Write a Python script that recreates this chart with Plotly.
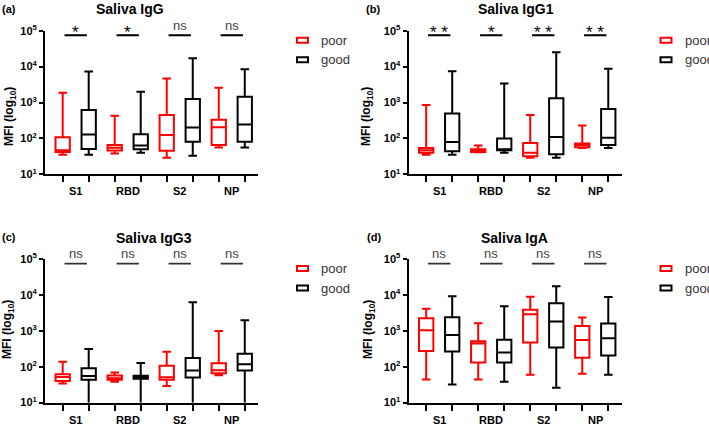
import plotly.graph_objects as go

W, H = 709, 425
FONT = "Liberation Sans, Arial, sans-serif"

categories = ["S1", "RBD", "S2", "NP"]
group_names = ["poor", "good"]
group_colors = ["#ff0000", "#000000"]

panel_tags = ["(a)", "(b)", "(c)", "(d)"]
panel_titles = ["Saliva IgG", "Saliva IgG1", "Saliva IgG3", "Saliva IgA"]

# significance label per category (S1, RBD, S2, NP)
sig_igg = ["*", "*", "ns", "ns"]
sig_igg1 = ["**", "*", "**", "**"]
sig_igg3 = ["ns", "ns", "ns", "ns"]
sig_iga = ["ns", "ns", "ns", "ns"]

# box stats per category: (min, q1, median, q3, max), MFI
igg_poor = [(35, 42, 47, 107, 1870), (38, 46, 55, 66, 430), (29, 45, 125, 450, 4650), (56, 66, 204, 330, 2570)]
igg_good = [(35, 51, 128, 620, 7300), (40, 50, 63, 131, 1990), (33, 81, 200, 1260, 17000), (56, 81, 245, 1450, 8500)]

igg1_poor = [(35, 40, 47, 54, 850), (41, 42, 47, 50, 63), (29, 32, 40, 74, 450), (54, 57, 65, 72, 230)]
igg1_good = [(35, 44, 80, 490, 7400), (40, 47, 49, 99, 3400), (29, 36, 110, 1320, 25000), (54, 66, 105, 660, 8700)]

igg3_poor = [(34, 40, 52, 62, 138), (38, 43, 48, 57, 69), (29, 43, 51, 107, 260), (58, 66, 80, 124, 980)]
igg3_good = [(9, 43, 55, 91, 310), (9, 46, 51, 56, 126), (9, 50, 78, 175, 6200), (9, 79, 117, 228, 1960)]

iga_poor = [(44, 275, 1030, 2230, 4140), (44, 130, 440, 510, 1620), (60, 470, 2870, 3870, 8900), (64, 178, 550, 1360, 2330)]
iga_good = [(32, 263, 760, 2400, 9100), (38, 130, 250, 560, 4800), (26, 340, 1820, 5900, 17400), (60, 204, 620, 1590, 8700)]

panel_data = [(igg_poor, igg_good), (igg1_poor, igg1_good), (igg3_poor, igg3_good), (iga_poor, iga_good)]
panel_sigs = [sig_igg, sig_igg1, sig_igg3, sig_iga]

# pixel layout of each panel: plot-area left/top, title x, tag x, y-title x
panel_left = [45, 408.5, 45, 408.5]
panel_top = [30.7, 30.7, 259, 259]
title_x = [130, 516, 154, 514]
tag_x = [8.5, 372.5, 9, 374]
ytitle_x = [10, 367, 8, 369]
ytitle_y = [117, 117, 330, 330]
PW, PH = 213.3, 143.6


def px(x):
    return x / W


def py(y):
    return 1 - y / H


def label(x, y, text, size, color="#000000", xref="paper", yref="paper", **kw):
    d = dict(x=x, y=y, xref=xref, yref=yref, text=text, showarrow=False,
             xanchor="center", yanchor="middle",
             font=dict(family=FONT, size=size, color=color))
    d.update(kw)
    return d


fig = go.Figure()
annotations = []
shapes = []

for p in range(4):
    n = "" if p == 0 else str(p + 1)
    xa, ya = "x" + n, "y" + n
    left, top = panel_left[p], panel_top[p]

    # boxes: poor at even positions, good at odd
    for g, stats in enumerate(panel_data[p]):
        fig.add_trace(go.Box(
            x=[2 * i + g for i in range(len(categories))],
            lowerfence=[s[0] for s in stats],
            q1=[s[1] for s in stats],
            median=[s[2] for s in stats],
            q3=[s[3] for s in stats],
            upperfence=[s[4] for s in stats],
            width=0.55,
            whiskerwidth=0.6,
            fillcolor="rgba(255,255,255,0)",
            line=dict(color=group_colors[g], width=2),
            boxpoints=False,
            hoverinfo="skip",
            showlegend=False,
            xaxis=xa, yaxis=ya,
        ))

    # significance bars
    sig_color = "#000000" if p < 2 else "#333333"
    sig_w = 2 if p < 2 else 1.6
    for i, s in enumerate(panel_sigs[p]):
        fig.add_trace(go.Scatter(
            x=[2 * i + 0.07, 2 * i + 0.93], y=[10 ** 4.87, 10 ** 4.87],
            mode="lines", line=dict(color=sig_color, width=sig_w),
            hoverinfo="skip", showlegend=False, xaxis=xa, yaxis=ya,
        ))
        star = s.startswith("*")
        annotations.append(label(
            2 * i + 0.5, 4.87, s.replace("**", "* *"),
            17 if star else 13, "#000000" if star else "#444444",
            xref=xa, yref=ya, yshift=3 if star else 10,
        ))

    # category labels under each pair
    for i, c in enumerate(categories):
        annotations.append(label(2 * i + 0.5, py(top + PH + 17), "<b>" + c + "</b>", 11, xref=xa))

    # title, tag, y title
    annotations.append(label(px(title_x[p]), py(top - 21.5), "<b>" + panel_titles[p] + "</b>", 14))
    annotations.append(label(px(tag_x[p]), py(top - 21.7), "<b>" + panel_tags[p] + "</b>", 11))
    annotations.append(label(px(ytitle_x[p]), py(ytitle_y[p]), "<b>MFI (log<sub>10</sub>)</b>", 12,
                             textangle=-90))

    # hand-drawn legend
    for g, name in enumerate(group_names):
        cy = top + 9.5 + g * 19.5
        shapes.append(dict(
            type="rect", xref="paper", yref="paper",
            x0=px(left + 252), x1=px(left + 263), y0=py(cy + 2.5), y1=py(cy - 2.5),
            line=dict(color=group_colors[g], width=2), fillcolor="rgba(0,0,0,0)",
        ))
        annotations.append(label(px(left + 274), py(cy), name, 13, "#333333", xanchor="left"))

    fig.layout["xaxis" + n] = dict(
        domain=[px(left), px(left + PW)], anchor=ya,
        range=[-0.68, 7.52], tickvals=list(range(8)), ticktext=[""] * 8,
        ticks="outside", ticklen=6, tickwidth=2, tickcolor="#000000",
        showline=True, linewidth=2, linecolor="#000000", automargin=False,
        showgrid=False, zeroline=False, fixedrange=True,
    )
    fig.layout["yaxis" + n] = dict(
        domain=[py(top + PH), py(top)], anchor=xa, type="log", range=[1, 5],
        tickvals=[10, 100, 1000, 10000, 100000],
        ticktext=["<b>10<sup>%d</sup></b>" % k for k in range(1, 6)],
        tickfont=dict(family=FONT, size=11, color="#000000"),
        ticks="outside", ticklen=4, tickwidth=2, tickcolor="#000000",
        showline=True, linewidth=2, linecolor="#000000", automargin=False,
        showgrid=False, zeroline=False, fixedrange=True,
    )

fig.update_layout(
    template="none",
    width=W, height=H, autosize=False,
    margin=dict(l=0, r=0, t=0, b=0, pad=0, autoexpand=False),
    paper_bgcolor="white", plot_bgcolor="white",
    font=dict(family=FONT, color="#000000"),
    annotations=annotations, shapes=shapes,
    showlegend=False,
)

# drop the page's default body margin so the figure sits at the window corner
fig.write_html("out.html", config={"displayModeBar": False},
               post_script="document.body.style.margin='0';document.body.style.overflow='hidden';")
